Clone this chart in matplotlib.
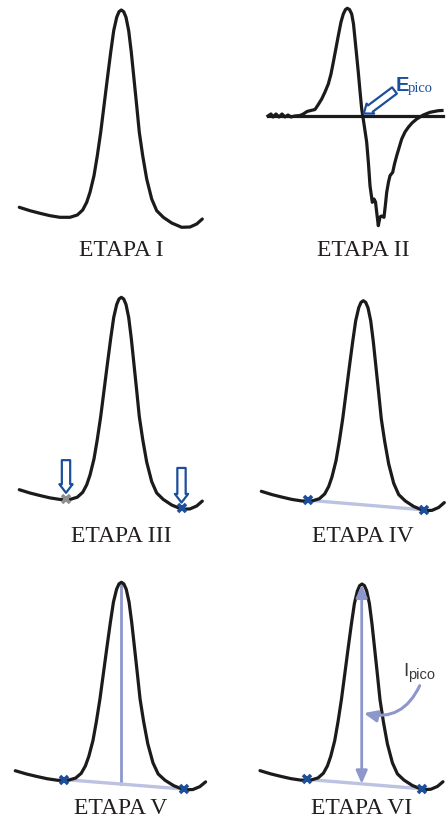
import numpy as np
import matplotlib
matplotlib.use("Agg")
import matplotlib.pyplot as plt

# peak shape (local pixel units, y grows downward)
peak_x = [19.3, 30, 40, 50, 60, 70, 77.3, 82.7, 86.7, 90, 94, 97.3, 100.7, 104,
          107.3, 110.7, 113.7, 116.7, 119, 121.3, 123.7, 126, 128.7, 131.3, 134,
          136.7, 139.3, 142.7, 146.7, 151.7, 156.7, 163.3, 171.7, 181.7, 190,
          196.7, 202.3]
peak_y = [208.3, 211.7, 214.3, 216.7, 218.3, 218.3, 216, 211, 203.3, 193.3,
          176.7, 156.7, 133.3, 106.7, 80, 53.3, 31.7, 18.3, 12.7, 11, 12.7, 18.3,
          31.7, 53.3, 80, 106.7, 133.3, 156.7, 180, 200, 211.7, 218.3, 224, 228.3,
          228, 225, 220]

# stage II: derivative curve and zero line
deriv_x = [28, 31, 33, 36, 39, 42, 45, 48, 51, 55, 60, 63.3, 67, 70, 75, 78,
           81.7, 85, 88.3, 91, 93.3, 96, 98.3, 101, 103.3, 105.5, 107.3, 109.5,
           111.7, 113.5, 115, 116.7, 118.3, 120, 121.7, 124, 126.7, 128.5, 130,
           132.3, 134, 135.5, 136.7, 138.3, 140, 141.5, 144, 145.5, 146.7, 148.5,
           150, 152.7, 154.5, 156.7, 161.7, 165, 168.3, 172, 176.7, 183.3, 190,
           198.3, 202]
deriv_y = [117, 115, 118, 115, 118, 115, 118, 116, 118, 117, 116.5, 115, 112.5,
           111.7, 110.5, 106, 100, 93, 85, 75, 63.3, 49, 36.7, 23, 15, 10.5, 9.3,
           10.5, 15, 25, 40, 57, 73.3, 92, 110, 125, 143.3, 165, 186.7, 203.3,
           200, 203, 213.3, 226.7, 218, 217, 218.3, 205, 193.3, 183, 176.7, 173.3,
           165, 156.7, 140, 133, 128.3, 124, 120, 116, 113.3, 111.7, 111.5]
zero_x = [28.3, 202.7]
zero_y = [116.7, 116.7]

# baseline end points, minima on either side of the peak
base_x = [66.0, 181.5]
base_y = [217.5, 227.5]
peak_top = [121.0, 11.0]

labels = ["ETAPA I", "ETAPA II", "ETAPA III", "ETAPA IV", "ETAPA V", "ETAPA VI"]

BLACK = "#1c1a1a"
BLUE = "#1b4f9c"
LAV = "#8e97cc"
LAV_LIGHT = "#bcc2e2"
GREY = "#8f8f8f"
TXT = "#231f20"

FW, FH = 447, 820
W, H = 223, 265


def make_panel(fig, ox, oy, sx=1.0, sy=1.0):
    ax = fig.add_axes([ox / FW, 1 - (oy + H * sy) / FH, W * sx / FW, H * sy / FH])
    ax.set_xlim(0, W)
    ax.set_ylim(H, 0)
    ax.axis("off")
    return ax


def draw_peak(ax):
    ax.plot(peak_x, peak_y, color=BLACK, lw=2.3, solid_capstyle="round",
            solid_joinstyle="round", clip_on=False)


def draw_base(ax):
    ax.plot(base_x, base_y, color=LAV_LIGHT, lw=2.4, clip_on=False)


def draw_marks(ax, colors=(BLUE, BLUE)):
    for x, y, c in zip(base_x, base_y, colors):
        ax.plot(x, y, ls="none", marker="x", ms=6, mew=2.6, color=c, clip_on=False)


def hollow_arrow(ax, tail, tip, scale=10):
    ax.annotate("", xy=tip, xytext=tail,
                arrowprops=dict(arrowstyle="simple,head_length=0.62,head_width=0.95,tail_width=0.6",
                                mutation_scale=scale, fc="white", ec=BLUE, lw=1.6,
                                shrinkA=0, shrinkB=0))


fig = plt.figure(figsize=(FW / 100, FH / 100), dpi=100)

# ETAPA I
ax1 = make_panel(fig, 0, 0)
draw_peak(ax1)

# ETAPA II
ax2 = make_panel(fig, 240, 0)
ax2.plot(zero_x, zero_y, color=BLACK, lw=2.3, clip_on=False)
ax2.plot(deriv_x, deriv_y, color=BLACK, lw=2.3, solid_joinstyle="round",
         clip_on=False)
hollow_arrow(ax2, (154.5, 91.5), (123.8, 114.5), scale=9.5)
ax2.text(155.5, 90.7, "E", color=BLUE, fontsize=14.5, fontweight="bold",
         family="Liberation Sans", va="baseline", ha="left")
ax2.text(168.0, 92.3, "pico", color=BLUE, fontsize=10.5,
         family="Liberation Serif", va="baseline", ha="left")

# ETAPA III
ax3 = make_panel(fig, 0, 287.6, 1.0, 0.975)
draw_peak(ax3)
draw_marks(ax3, colors=(GREY, BLUE))
hollow_arrow(ax3, (base_x[0], 178.0), (base_x[0], 211.5))
hollow_arrow(ax3, (base_x[1], 186.0), (base_x[1], 221.5))

# ETAPA IV
ax4 = make_panel(fig, 242, 291.1, 1.0, 0.966)
draw_base(ax4)
draw_peak(ax4)
draw_marks(ax4)

# ETAPA V
ax5 = make_panel(fig, -4.8, 572.8, 1.04, 0.955)
foot = np.interp(peak_top[0], base_x, base_y)
ax5.plot([peak_top[0], peak_top[0]], [peak_top[1], foot], color=LAV, lw=2.0)
draw_base(ax5)
draw_peak(ax5)
draw_marks(ax5)

# ETAPA VI
ax6 = make_panel(fig, 240.7, 574.6, 1.0, 0.946)
draw_base(ax6)
draw_peak(ax6)
ax6.annotate("", xy=(peak_top[0], 11.5), xytext=(peak_top[0], foot),
             arrowprops=dict(arrowstyle="<|-|>,head_length=0.55,head_width=0.24",
                             mutation_scale=14, color=LAV, lw=2.0,
                             shrinkA=0, shrinkB=0))
ax6.annotate("", xy=(123.0, 147.5), xytext=(179.0, 118.5),
             arrowprops=dict(arrowstyle="-|>,head_length=0.55,head_width=0.24",
                             mutation_scale=14, color=LAV, lw=2.2,
                             connectionstyle="arc3,rad=-0.4",
                             shrinkA=0, shrinkB=0))
draw_marks(ax6)
ax6.text(163.0, 107.2, "I", color="#3a3a3a", fontsize=13.5,
         family="Liberation Sans", va="baseline", ha="left")
ax6.text(167.5, 110.6, "pico", color="#3a3a3a", fontsize=10.5,
         family="Liberation Sans", va="baseline", ha="left")

# stage captions
label_pos = [(121, 256), (363, 256), (121, 542), (363, 542), (121, 814), (362, 814)]
for text, (x, y) in zip(labels, label_pos):
    fig.text(x / FW, 1 - y / FH, text, ha="center", va="baseline",
             fontsize=17, family="Liberation Serif", color=TXT)

fig.savefig("out.png", dpi=100)
